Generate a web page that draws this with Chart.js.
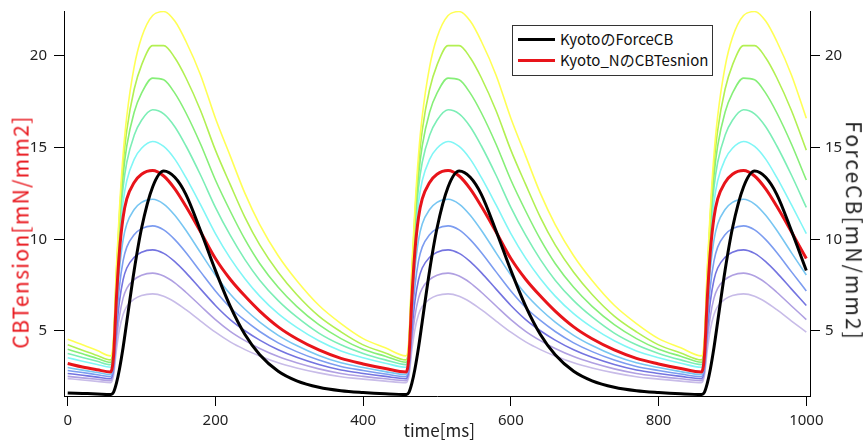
<!DOCTYPE html>
<html>
<head>
<meta charset="utf-8">
<script src="https://cdn.jsdelivr.net/npm/chart.js@4.4.1/dist/chart.umd.min.js"></script>
<style>
  html, body { margin: 0; padding: 0; background: #fff; }
  #wrap { position: relative; width: 864px; height: 441px; overflow: hidden; font-family: "Noto Sans CJK JP", "Noto Sans", sans-serif; }
  #chart { position: absolute; left: 0; top: 0; }
  .title { position: absolute; white-space: nowrap; font-size: 21px; line-height: 24px; color: #222; }
  #legendBox { position: absolute; left: 512px; top: 25px; width: 201px; height: 51px; border: 1.5px solid #333; box-sizing: border-box; background: #fff; }
  .swatch { position: absolute; left: 518px; width: 37px; height: 3px; }
  .lbl { position: absolute; left: 560px; font-size: 15px; line-height: 20px; white-space: nowrap; color: #111; }
</style>
</head>
<body>
<div id="wrap">
  <canvas id="chart" width="864" height="441"></canvas>
  <div class="title" id="yTitle" style="color:#e8141a">CBTension[mN/mm2]</div>
  <div class="title" id="y2Title">ForceCB[mN/mm2]</div>
  <div class="title" id="xTitle" style="font-size:17px">time[ms]</div>
  <div id="legendBox"></div>
  <div class="swatch" style="top:38px;background:#000"></div>
  <div class="lbl" style="top:29px">KyotoのForceCB</div>
  <div class="swatch" style="top:59px;background:#e8141a"></div>
  <div class="lbl" style="top:50px">Kyoto_NのCBTesnion</div>
</div>
<script>
// time axis [ms]
const times = [0, 20, 40, 58,
  62, 66, 70, 75, 80, 90, 100, 115, 130, 145, 160, 180, 200, 220, 240, 260, 285, 310, 340, 370, 400, 430, 458,
  462, 466, 470, 475, 480, 490, 500, 515, 530, 545, 560, 580, 600, 620, 640, 660, 685, 710, 740, 770, 800, 830, 858,
  862, 866, 870, 875, 880, 890, 900, 915, 930, 945, 960, 980, 1000];

const xTicks = [0, 200, 400, 600, 800, 1000];
const yTicks = [5, 10, 15, 20];

// CBTension family (left axis)
const cbYellow = [4.55, 4.25, 3.93, 3.64,
  4.60, 8.50, 11.60, 14.60, 16.70, 19.40, 21.00, 22.20, 22.42, 21.90, 20.80, 18.95, 16.60, 14.55, 12.50, 10.80, 9.10, 7.75, 6.40, 5.40, 4.58, 4.08, 3.64,
  4.60, 8.50, 11.60, 14.60, 16.70, 19.40, 21.00, 22.20, 22.42, 21.90, 20.80, 18.95, 16.60, 14.55, 12.50, 10.80, 9.10, 7.75, 6.40, 5.40, 4.58, 4.08, 3.64,
  4.60, 8.50, 11.60, 14.60, 16.70, 19.40, 21.00, 22.20, 22.42, 21.90, 20.80, 18.95, 16.60];
const cbLime = [4.24, 3.95, 3.66, 3.42,
  4.38, 8.25, 11.29, 14.07, 15.94, 18.18, 19.50, 20.56, 20.56, 19.90, 18.81, 17.01, 14.86, 12.99, 11.19, 9.69, 8.20, 6.99, 5.81, 4.95, 4.24, 3.80, 3.42,
  4.38, 8.25, 11.29, 14.07, 15.94, 18.18, 19.50, 20.56, 20.56, 19.90, 18.81, 17.01, 14.86, 12.99, 11.19, 9.69, 8.20, 6.99, 5.81, 4.95, 4.24, 3.80, 3.42,
  4.38, 8.25, 11.29, 14.07, 15.94, 18.18, 19.50, 20.56, 20.56, 19.90, 18.81, 17.01, 14.86];
const cbGreen = [4.00, 3.75, 3.50, 3.29,
  4.24, 7.99, 10.92, 13.47, 15.09, 16.93, 17.97, 18.79, 18.70, 17.97, 16.90, 15.18, 13.23, 11.54, 9.99, 8.68, 7.38, 6.34, 5.34, 4.58, 4.00, 3.62, 3.29,
  4.24, 7.99, 10.92, 13.47, 15.09, 16.93, 17.97, 18.79, 18.70, 17.97, 16.90, 15.18, 13.23, 11.54, 9.99, 8.68, 7.38, 6.34, 5.34, 4.58, 4.00, 3.62, 3.29,
  4.24, 7.99, 10.92, 13.47, 15.09, 16.93, 17.97, 18.79, 18.70, 17.97, 16.90, 15.18, 13.23];
const cbMint = [3.77, 3.55, 3.34, 3.16,
  4.08, 7.66, 10.49, 12.81, 14.20, 15.67, 16.49, 17.06, 16.84, 16.14, 15.10, 13.49, 11.74, 10.22, 8.89, 7.77, 6.65, 5.76, 4.88, 4.24, 3.77, 3.42, 3.16,
  4.08, 7.66, 10.49, 12.81, 14.20, 15.67, 16.49, 17.06, 16.84, 16.14, 15.10, 13.49, 11.74, 10.22, 8.89, 7.77, 6.65, 5.76, 4.88, 4.24, 3.77, 3.42, 3.16,
  4.08, 7.66, 10.49, 12.81, 14.20, 15.67, 16.49, 17.06, 16.84, 16.14, 15.10, 13.49, 11.74];
const cbCyan = [3.54, 3.35, 3.17, 3.02,
  3.89, 7.28, 9.93, 12.02, 13.19, 14.36, 14.96, 15.33, 15.06, 14.37, 13.37, 11.87, 10.31, 8.97, 7.85, 6.90, 5.94, 5.19, 4.46, 3.91, 3.54, 3.24, 3.02,
  3.89, 7.28, 9.93, 12.02, 13.19, 14.36, 14.96, 15.33, 15.06, 14.37, 13.37, 11.87, 10.31, 8.97, 7.85, 6.90, 5.94, 5.19, 4.46, 3.91, 3.54, 3.24, 3.02,
  3.89, 7.28, 9.93, 12.02, 13.19, 14.36, 14.96, 15.33, 15.06, 14.37, 13.37, 11.87, 10.31];
const kyotoN = [3.22, 3.03, 2.88, 2.76,
  3.60, 6.80, 9.30, 11.20, 12.20, 13.10, 13.55, 13.75, 13.45, 12.75, 11.80, 10.40, 8.95, 7.82, 6.90, 6.08, 5.22, 4.57, 3.96, 3.50, 3.20, 2.95, 2.76,
  3.60, 6.80, 9.30, 11.20, 12.20, 13.10, 13.55, 13.75, 13.45, 12.75, 11.80, 10.40, 8.95, 7.82, 6.90, 6.08, 5.22, 4.57, 3.96, 3.50, 3.20, 2.95, 2.76,
  3.60, 6.80, 9.30, 11.20, 12.20, 13.10, 13.55, 13.75, 13.45, 12.75, 11.80, 10.40, 8.95];
const cbSky = [3.00, 2.86, 2.73, 2.62,
  3.35, 6.14, 8.31, 9.96, 10.83, 11.62, 12.01, 12.18, 11.92, 11.31, 10.49, 9.26, 8.05, 7.01, 6.18, 5.48, 4.76, 4.20, 3.66, 3.26, 3.00, 2.78, 2.62,
  3.35, 6.14, 8.31, 9.96, 10.83, 11.62, 12.01, 12.18, 11.92, 11.31, 10.49, 9.26, 8.05, 7.01, 6.18, 5.48, 4.76, 4.20, 3.66, 3.26, 3.00, 2.78, 2.62,
  3.35, 6.14, 8.31, 9.96, 10.83, 11.62, 12.01, 12.18, 11.92, 11.31, 10.49, 9.26, 8.05];
const cbBlue = [2.84, 2.73, 2.61, 2.51,
  3.13, 5.54, 7.40, 8.82, 9.57, 10.25, 10.58, 10.73, 10.51, 9.98, 9.28, 8.22, 7.18, 6.28, 5.57, 4.97, 4.35, 3.87, 3.41, 3.06, 2.84, 2.65, 2.51,
  3.13, 5.54, 7.40, 8.82, 9.57, 10.25, 10.58, 10.73, 10.51, 9.98, 9.28, 8.22, 7.18, 6.28, 5.57, 4.97, 4.35, 3.87, 3.41, 3.06, 2.84, 2.65, 2.51,
  3.13, 5.54, 7.40, 8.82, 9.57, 10.25, 10.58, 10.73, 10.51, 9.98, 9.28, 8.22, 7.18];
const cbIndigo = [2.68, 2.58, 2.48, 2.40,
  2.93, 4.98, 6.58, 7.79, 8.43, 9.01, 9.29, 9.42, 9.23, 8.78, 8.18, 7.28, 6.39, 5.62, 5.01, 4.50, 3.97, 3.56, 3.17, 2.87, 2.68, 2.52, 2.40,
  2.93, 4.98, 6.58, 7.79, 8.43, 9.01, 9.29, 9.42, 9.23, 8.78, 8.18, 7.28, 6.39, 5.62, 5.01, 4.50, 3.97, 3.56, 3.17, 2.87, 2.68, 2.52, 2.40,
  2.93, 4.98, 6.58, 7.79, 8.43, 9.01, 9.29, 9.42, 9.23, 8.78, 8.18, 7.28, 6.39];
const cbLavender = [2.52, 2.44, 2.36, 2.29,
  2.74, 4.45, 5.78, 6.79, 7.32, 7.80, 8.04, 8.15, 7.99, 7.62, 7.11, 6.36, 5.62, 4.98, 4.47, 4.04, 3.60, 3.26, 2.93, 2.68, 2.52, 2.39, 2.29,
  2.74, 4.45, 5.78, 6.79, 7.32, 7.80, 8.04, 8.15, 7.99, 7.62, 7.11, 6.36, 5.62, 4.98, 4.47, 4.04, 3.60, 3.26, 2.93, 2.68, 2.52, 2.39, 2.29,
  2.74, 4.45, 5.78, 6.79, 7.32, 7.80, 8.04, 8.15, 7.99, 7.62, 7.11, 6.36, 5.62];
const cbLilac = [2.40, 2.32, 2.25, 2.18,
  2.55, 3.96, 5.06, 5.90, 6.34, 6.73, 6.93, 7.02, 6.89, 6.58, 6.16, 5.54, 4.93, 4.40, 3.98, 3.63, 3.26, 2.98, 2.71, 2.50, 2.37, 2.26, 2.18,
  2.55, 3.96, 5.06, 5.90, 6.34, 6.73, 6.93, 7.02, 6.89, 6.58, 6.16, 5.54, 4.93, 4.40, 3.98, 3.63, 3.26, 2.98, 2.71, 2.50, 2.37, 2.26, 2.18,
  2.55, 3.96, 5.06, 5.90, 6.34, 6.73, 6.93, 7.02, 6.89, 6.58, 6.16, 5.54, 4.93];

// ForceCB (right axis)
const kyotoForce = [1.62, 1.59, 1.56, 1.53,
  1.65, 2.15, 2.90, 4.10, 5.50, 8.30, 10.60, 12.85, 13.72, 13.38, 12.45, 10.45, 8.30, 6.35, 4.80, 3.70, 2.80, 2.28, 1.93, 1.74, 1.64, 1.57, 1.53,
  1.65, 2.15, 2.90, 4.10, 5.50, 8.30, 10.60, 12.85, 13.72, 13.38, 12.45, 10.45, 8.30, 6.35, 4.80, 3.70, 2.80, 2.28, 1.93, 1.74, 1.64, 1.57, 1.53,
  1.65, 2.15, 2.90, 4.10, 5.50, 8.30, 10.60, 12.85, 13.72, 13.38, 12.45, 10.45, 8.30];

const family = [cbYellow, cbLime, cbGreen, cbMint, cbCyan, cbSky, cbBlue, cbIndigo, cbLavender, cbLilac];
const familyColors = ['#ffff55', '#b2f052', '#86ef78', '#7ceeb6', '#80f6f6', '#78c6f2', '#7c9cf0', '#7474e0', '#b0a0e2', '#c8bce8'];

function pts(vals) {
  return vals.map((v, i) => ({ x: times[i], y: v }));
}

const datasets = [
  { label: 'KyotoのForceCB', data: pts(kyotoForce), borderColor: '#000', borderWidth: 3, yAxisID: 'y2' },
  { label: 'Kyoto_NのCBTesnion', data: pts(kyotoN), borderColor: '#e8141a', borderWidth: 3, yAxisID: 'y' }
];
family.forEach((vals, i) => {
  datasets.push({ label: 'cb' + i, data: pts(vals), borderColor: familyColors[i], borderWidth: 1.6, yAxisID: 'y' });
});
datasets.forEach(d => {
  d.pointRadius = 0;
  d.fill = false;
  d.cubicInterpolationMode = 'monotone';
});

const tickFont = { family: '"Noto Sans", sans-serif', size: 15 };
const setTicks = list => scale => { scale.ticks = list.map(v => ({ value: v })); };
const axisGrid = { drawOnChartArea: false, drawTicks: true, tickLength: 10, color: '#000', tickWidth: 1 };
const axisBorder = { display: true, color: '#000', width: 1 };

new Chart(document.getElementById('chart'), {
  type: 'line',
  data: { datasets: datasets },
  options: {
    responsive: false,
    animation: false,
    devicePixelRatio: 1,
    layout: { padding: { top: 11, left: 0, right: 0, bottom: 0 } },
    plugins: { legend: { display: false }, tooltip: { enabled: false } },
    scales: {
      x: {
        type: 'linear', position: 'bottom', min: -5, max: 1005,
        grid: axisGrid, border: axisBorder,
        ticks: { font: tickFont, color: '#222', padding: 6, maxRotation: 0, callback: v => String(v) },
        afterBuildTicks: setTicks(xTicks),
        afterFit: s => { s.height = 45; s.paddingLeft = 0; s.paddingRight = 0; }
      },
      y: {
        type: 'linear', position: 'left', min: 1.45, max: 22.45,
        grid: axisGrid, border: axisBorder,
        ticks: { font: tickFont, color: '#222', padding: 7, callback: v => String(v) },
        afterBuildTicks: setTicks(yTicks),
        afterFit: s => { s.width = 64; s.paddingTop = 0; s.paddingBottom = 0; }
      },
      y2: {
        type: 'linear', position: 'right', min: 1.45, max: 22.45,
        grid: axisGrid, border: axisBorder,
        ticks: { font: tickFont, color: '#222', padding: 5, callback: v => String(v) },
        afterBuildTicks: setTicks(yTicks),
        afterFit: s => { s.width = 54; s.paddingTop = 0; s.paddingBottom = 0; }
      }
    }
  }
});

// axis titles: stretch to the length seen in the reference and rotate
function placeTitle(id, cx, cy, angle, len) {
  const el = document.getElementById(id);
  if (len) {
    const n = el.textContent.length;
    const w = el.offsetWidth;
    el.style.letterSpacing = Math.max(0, (len - w) / (n - 1)) + 'px';
  }
  const w2 = el.offsetWidth, h2 = el.offsetHeight;
  el.style.left = (cx - w2 / 2) + 'px';
  el.style.top = (cy - h2 / 2) + 'px';
  el.style.transform = 'rotate(' + angle + 'deg)';
}
placeTitle('yTitle', 19, 232, -90, 232);
placeTitle('y2Title', 855, 231, 90, 218);
placeTitle('xTitle', 439, 430, 0, 0);
</script>
</body>
</html>
